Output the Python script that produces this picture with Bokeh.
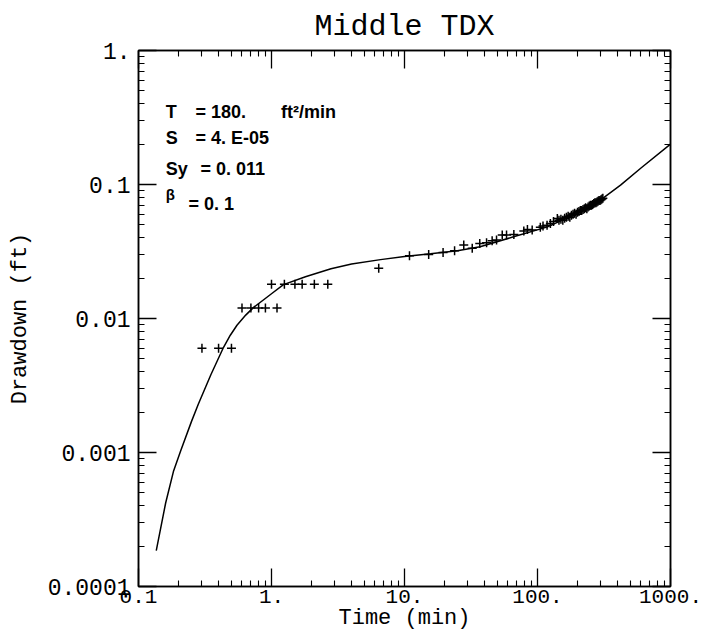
from bokeh.plotting import figure
from bokeh.models import LogAxis, FixedTicker, Label, Range1d
from bokeh.embed import file_html
from bokeh.resources import INLINE

# ---- data ----
curve_t = [0.136, 0.16, 0.183, 0.207, 0.25, 0.282, 0.35, 0.436, 0.49, 0.55, 0.64, 0.733,
           1.0, 1.23, 1.8, 2.8, 4.0, 6.6, 10, 15.7, 25, 37, 66, 119, 210, 313, 421, 600, 1000]
curve_s = [0.000185, 0.00042, 0.00072, 0.00102, 0.0017, 0.0023, 0.0038, 0.0061, 0.0075,
           0.0089, 0.0106, 0.0121, 0.0153, 0.0179, 0.0205, 0.0235, 0.0255, 0.0275, 0.0290,
           0.0304, 0.0320, 0.0343, 0.0407, 0.0483, 0.0625, 0.0794, 0.099, 0.1327, 0.2]

obs_t = [0.3, 0.4, 0.5,
         0.6, 0.7, 0.8, 0.9, 1.1,
         1.0, 1.25, 1.5, 1.7, 2.1, 2.65,
         6.4, 10.9, 15.2, 19.5, 23.8, 27.9, 32.3, 36.8, 41.4, 45.6, 49.2, 54.3, 58.5,
         66.4, 78.9, 84, 91.2, 105, 110, 118, 125, 132, 141,
         145, 150, 155, 160, 165, 170, 175, 180, 185, 190, 195, 200, 205, 210, 215,
         220, 225, 230, 235, 240, 245, 250, 255, 260, 265, 270, 275, 280, 285, 290,
         295, 300, 305, 310]
obs_s = [0.006, 0.006, 0.006,
         0.012, 0.012, 0.012, 0.012, 0.012,
         0.018, 0.018, 0.018, 0.018, 0.018, 0.018,
         0.0237, 0.0294, 0.0300, 0.0311, 0.0320, 0.0353, 0.0334, 0.0363, 0.0367, 0.0380,
         0.0386, 0.0419, 0.0419,
         0.0423, 0.0449, 0.0462, 0.0457, 0.0480, 0.0490, 0.0497, 0.0511, 0.0530, 0.0557,
         0.054, 0.055, 0.054, 0.056, 0.057, 0.058, 0.057, 0.059, 0.060, 0.061, 0.060,
         0.062, 0.063, 0.064, 0.064, 0.065, 0.066, 0.067, 0.066, 0.068, 0.069, 0.070,
         0.070, 0.071, 0.072, 0.073, 0.073, 0.074, 0.075, 0.076, 0.076, 0.077, 0.078,
         0.079]

x_ticks = [0.1, 1, 10, 100, 1000]
x_tick_labels = ["0.1", "1.", "10.", "100.", "1000."]
y_ticks = [0.0001, 0.001, 0.01, 0.1, 1]
y_tick_labels = ["0.0001", "0.001", "0.01", "0.1", "1."]

NB = "\u00a0"
param_symbols = ["T", "S", "Sy", "\u03b2"]
param_values = ["= 180." + NB * 6 + " ft\u00b2/min", "= 4. E-05", "= 0. 011", "= 0. 1"]

# ---- figure ----
MONO = "Liberation Mono"
p = figure(x_axis_type="log", y_axis_type="log",
           x_range=Range1d(0.1, 1000), y_range=Range1d(0.0001, 1),
           width=705, height=641,
           min_border_left=138, min_border_right=35, min_border_top=48, min_border_bottom=55,
           output_backend="svg", toolbar_location=None, title="Middle TDX")
p.title.align = "center"
p.title.text_font = MONO
p.title.text_font_size = "30px"
p.title.text_font_style = "normal"
p.title.text_color = "black"
p.title.standoff = 14
p.grid.visible = False
p.outline_line_color = "black"
p.outline_line_width = 1.5
p.background_fill_color = "white"
p.border_fill_color = "white"

x_minor = [m * 10.0 ** e for e in range(-1, 3) for m in range(2, 10)]
y_minor = [m * 10.0 ** e for e in range(-4, 0) for m in range(2, 10)]

def style_axis(ax, ticks, minor, labels, show_labels, size="21px"):
    ax.ticker = FixedTicker(ticks=ticks, minor_ticks=minor)
    ax.major_tick_in = 18
    ax.major_tick_out = 0
    ax.minor_tick_in = 6
    ax.minor_tick_out = 0
    ax.major_tick_line_color = "black"
    ax.minor_tick_line_color = "black"
    ax.major_tick_line_width = 1.3
    ax.minor_tick_line_width = 1.1
    ax.axis_line_color = "black"
    ax.axis_line_width = 1.5
    if show_labels:
        ax.major_label_overrides = {t: l for t, l in zip(ticks, labels)}
        ax.major_label_text_font = MONO
        ax.major_label_text_font_size = size
        ax.major_label_text_color = "black"
        ax.axis_label_text_font = MONO
        ax.axis_label_text_font_size = "22px"
        ax.axis_label_text_font_style = "normal"
        ax.axis_label_text_color = "black"
    else:
        ax.major_label_text_font_size = "4px"
        ax.major_label_text_alpha = 0
        ax.major_label_standoff = 0

style_axis(p.xaxis[0], x_ticks, x_minor, x_tick_labels, True, "21px")
style_axis(p.yaxis[0], y_ticks, y_minor, y_tick_labels, True, "23px")
p.xaxis[0].axis_label = "Time (min)"
p.yaxis[0].axis_label = "Drawdown (ft)"
p.xaxis[0].major_label_standoff = 3
p.xaxis[0].axis_label_standoff = 0
p.yaxis[0].major_label_standoff = 8
p.yaxis[0].axis_label_standoff = 12

top_ax = LogAxis()
right_ax = LogAxis()
style_axis(top_ax, x_ticks, x_minor, x_tick_labels, False)
style_axis(right_ax, y_ticks, y_minor, y_tick_labels, False)
p.add_layout(top_ax, "above")
p.add_layout(right_ax, "right")

# ---- glyphs ----
p.line(curve_t, curve_s, line_color="black", line_width=1.5)
p.scatter(obs_t, obs_s, marker="cross", size=9, line_color="black", line_width=1.5)

# ---- parameter annotations ----
SANS = "Liberation Sans"

def note(x, y, text, size="18px"):
    p.add_layout(Label(x=x, y=y, text=text, text_font=SANS, text_font_size=size,
                       text_font_style="bold", text_baseline="middle", text_color="black"))

sym_x = 0.16
sym_y = [0.349, 0.2236, 0.130, 0.0835]
val_x = [0.268, 0.268, 0.292, 0.2375]
val_y = [0.349, 0.2236, 0.130, 0.071]
for s, sy_, v, vx, vy in zip(param_symbols, sym_y, param_values, val_x, val_y):
    note(sym_x, sy_, s, "18px" if s != "\u03b2" else "15px")
    note(vx, vy, v)

open("out.html", "w").write(file_html(p, INLINE))
